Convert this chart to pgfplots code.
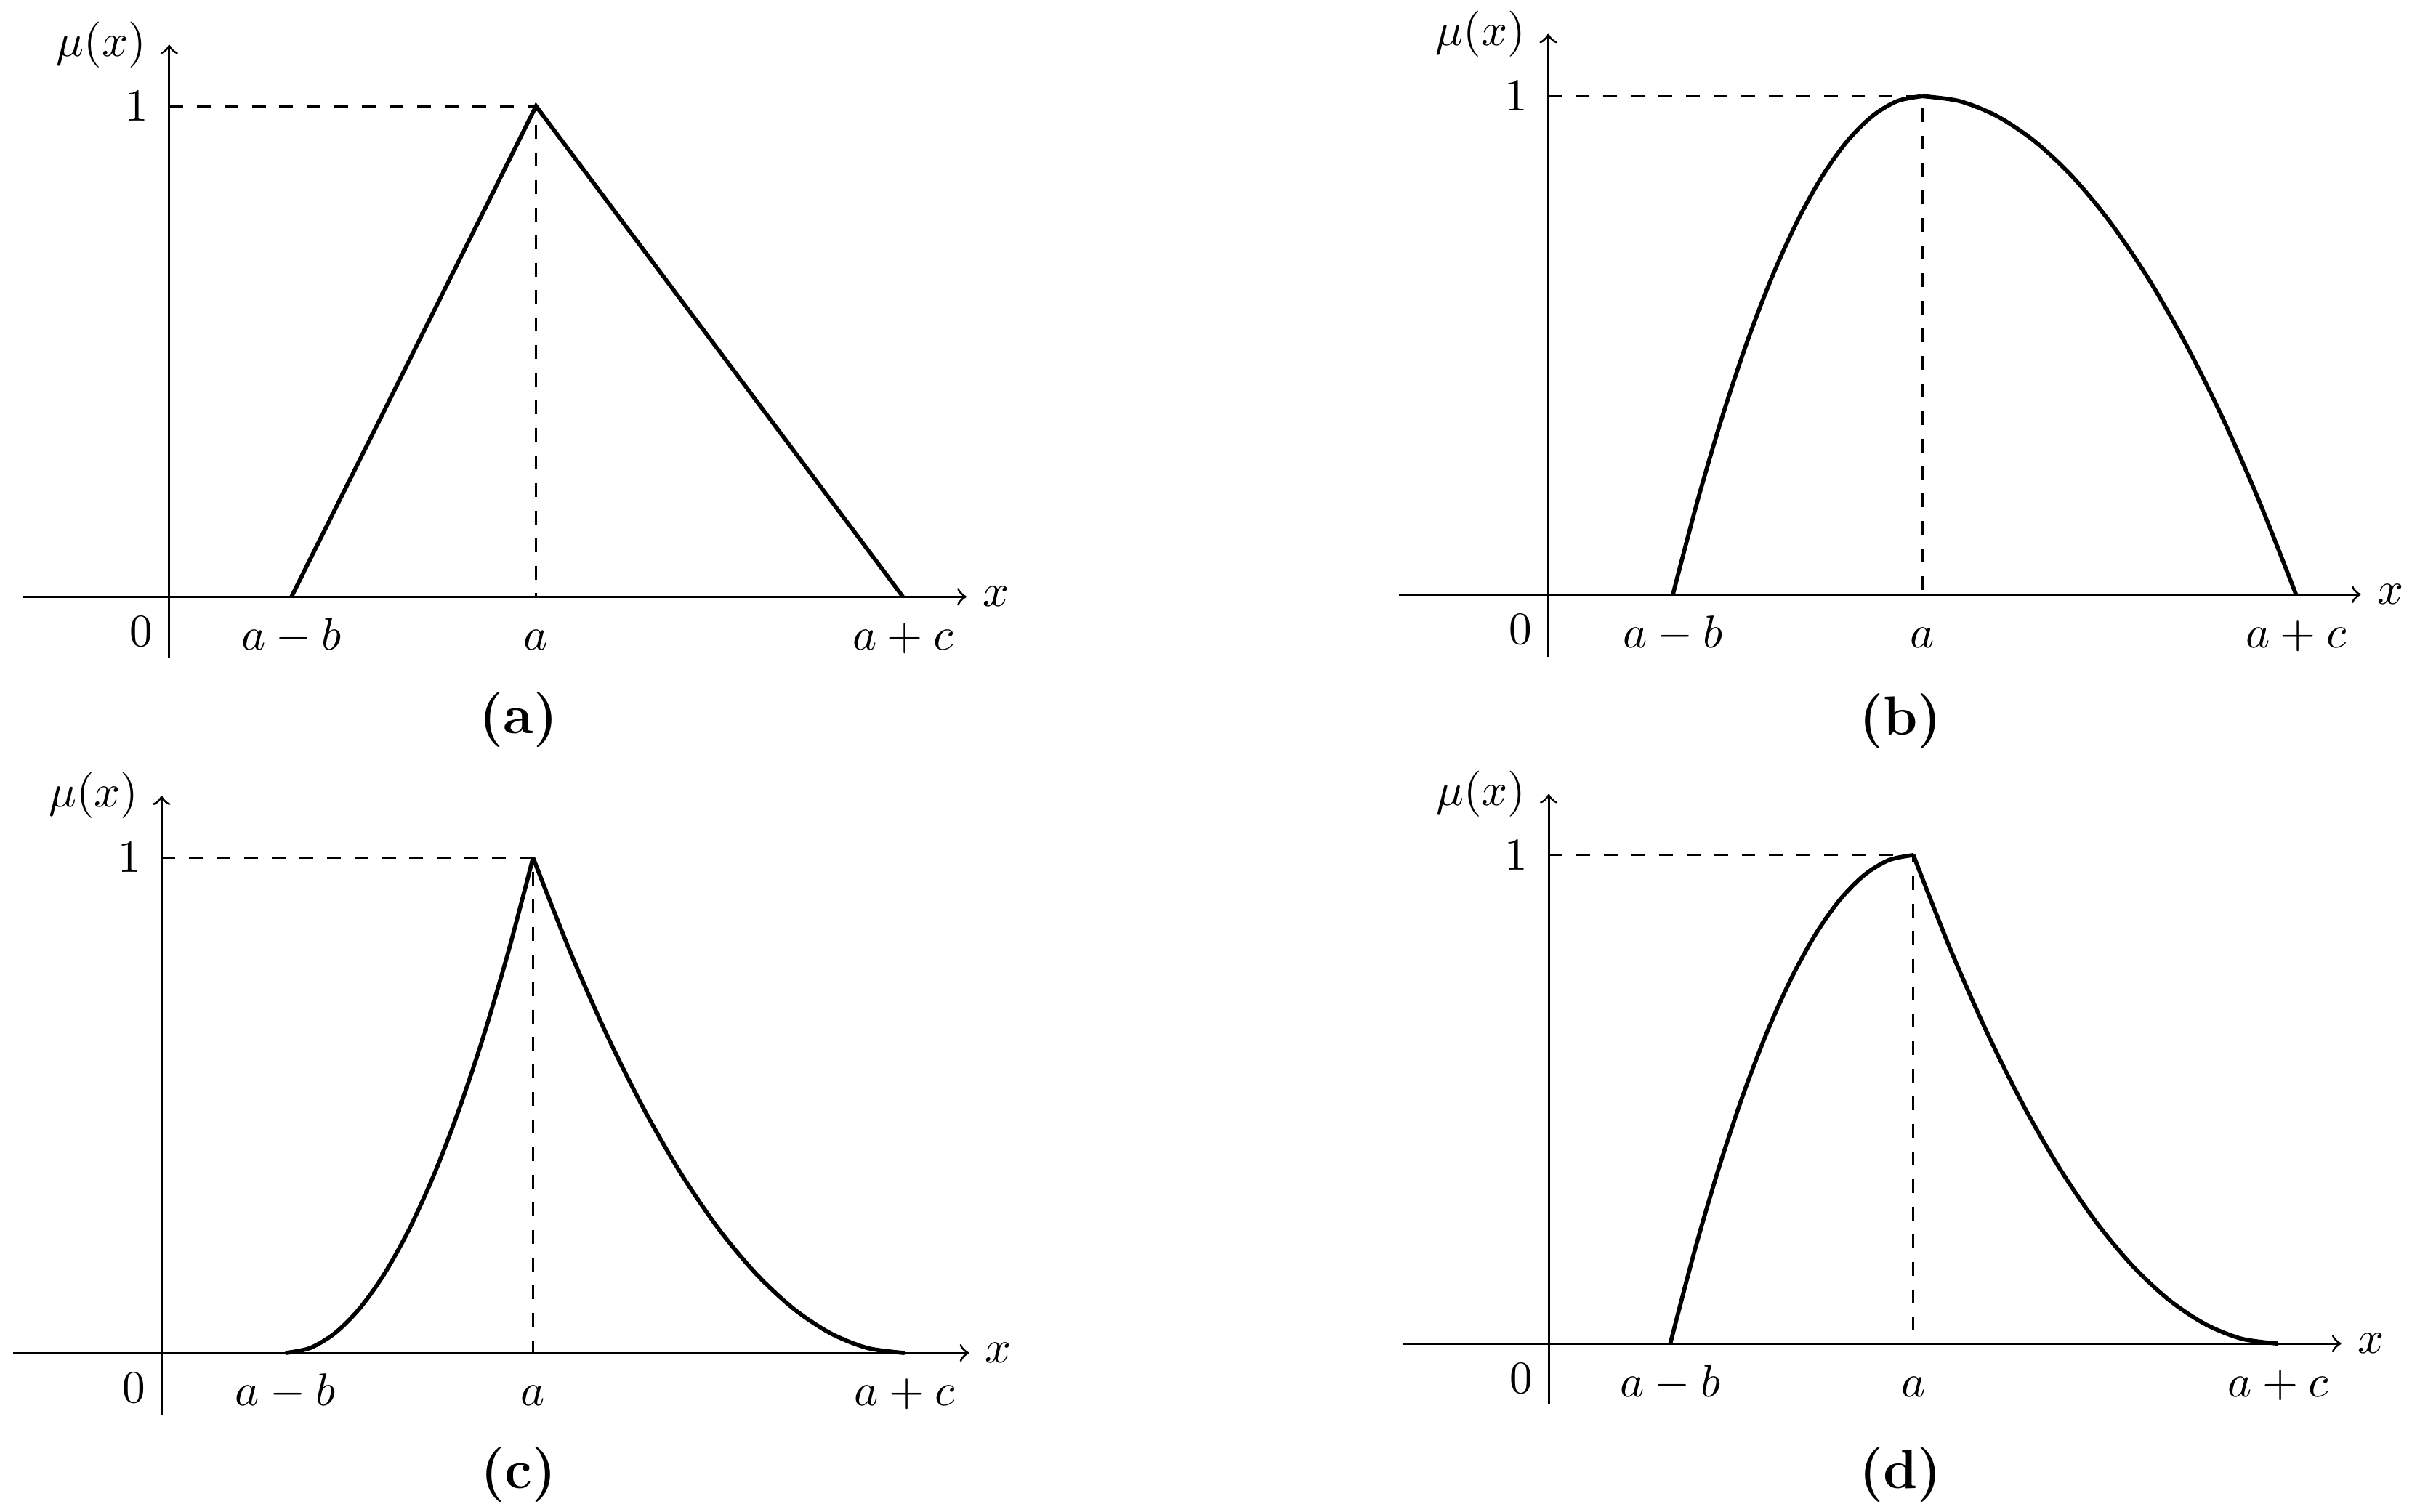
\documentclass[border=0pt]{standalone}
\usepackage{pgfplots}
\pgfplotsset{compat=1.18}

% curve pieces, x in units where a-b=1, a=3, a+c=6
\pgfplotstableread{
x y
1.0 0
1.2 0.19
1.4 0.36
1.6 0.51
1.8 0.64
2.0 0.75
2.2 0.84
2.4 0.91
2.6 0.96
2.8 0.99
3.0 1
}\concaveleft
\pgfplotstableread{
x y
3.0 1
3.3 0.99
3.6 0.96
3.9 0.91
4.2 0.84
4.5 0.75
4.8 0.64
5.1 0.51
5.4 0.36
5.7 0.19
6.0 0
}\concaveright
\pgfplotstableread{
x y
1.0 0
1.2 0.01
1.4 0.04
1.6 0.09
1.8 0.16
2.0 0.25
2.2 0.36
2.4 0.49
2.6 0.64
2.8 0.81
3.0 1
}\convexleft
\pgfplotstableread{
x y
3.0 1
3.3 0.81
3.6 0.64
3.9 0.49
4.2 0.36
4.5 0.25
4.8 0.16
5.1 0.09
5.4 0.04
5.7 0.01
6.0 0
}\convexright

\pgfplotsset{
  mf/.style={
    axis lines=middle,
    axis line style={line width=0.5pt,->},
    anchor=origin,
    clip=false,
    xmin=-1.2, xmax=6.52, ymin=-0.125, ymax=1.125,
    xtick={1,3,6}, xticklabels={$a-b$,$a$,$a+c$},
    ytick={1}, yticklabels={$1$},
    major tick length=0pt,
    xlabel={$x$}, ylabel={$\mu(x)$},
    every axis x label/.style={at={(current axis.right of origin)},anchor=west},
    every axis y label/.style={at={(current axis.above origin)},anchor=east,xshift=-1.5pt},
    yticklabel style={xshift=-1pt},
    xticklabel style={text height=7pt,yshift=-1pt},
  },
  curve/.style={black,line width=0.9pt,no marks},
  guide/.style={black,line width=0.5pt,dashed,no marks},
}
\tikzset{zero/.style={anchor=north east,yshift=-0.8pt}}

\begin{document}
\begin{tikzpicture}
\useasboundingbox (0,0) rectangle (525.28pt,-329.31pt);

% (a) triangular
\begin{axis}[mf, at={(36.85pt,-129.98pt)}, x=26.63pt, y=106.87pt]
\addplot[guide] coordinates {(0,1) (3,1) (3,0)};
\addplot[curve] coordinates {(1,0) (3,1) (6,0)};
\node[zero] at (axis cs:0,0) {$0$};
\end{axis}
\node at (112.90pt,-156.78pt) {\large\textbf{(a)}};

% (b) concave
\begin{axis}[mf, at={(337.18pt,-129.48pt)}, x=27.14pt, y=108.54pt]
\addplot[guide] coordinates {(0,1) (3,1) (3,0)};
\addplot[curve,smooth] table {\concaveleft};
\addplot[curve,smooth] table {\concaveright};
\node[zero] at (axis cs:0,0) {$0$};
\end{axis}
\node at (413.89pt,-157.12pt) {\large\textbf{(b)}};

% (c) convex
\begin{axis}[mf, at={(35.18pt,-294.70pt)}, x=26.97pt, y=107.87pt]
\addplot[guide] coordinates {(0,1) (3,1) (3,0)};
\addplot[curve,smooth] table {\convexleft};
\addplot[curve,smooth] table {\convexright};
\node[zero] at (axis cs:0,0) {$0$};
\end{axis}
\node at (112.90pt,-321.27pt) {\large\textbf{(c)}};

% (d) concave left, convex right
\begin{axis}[mf, at={(337.28pt,-292.66pt)}, x=26.47pt, y=106.40pt]
\addplot[guide] coordinates {(0,1) (3,1) (3,0)};
\addplot[curve,smooth] table {\concaveleft};
\addplot[curve,smooth] table {\convexright};
\node[zero] at (axis cs:0,0) {$0$};
\end{axis}
\node at (413.89pt,-321.27pt) {\large\textbf{(d)}};
\end{tikzpicture}
\end{document}
